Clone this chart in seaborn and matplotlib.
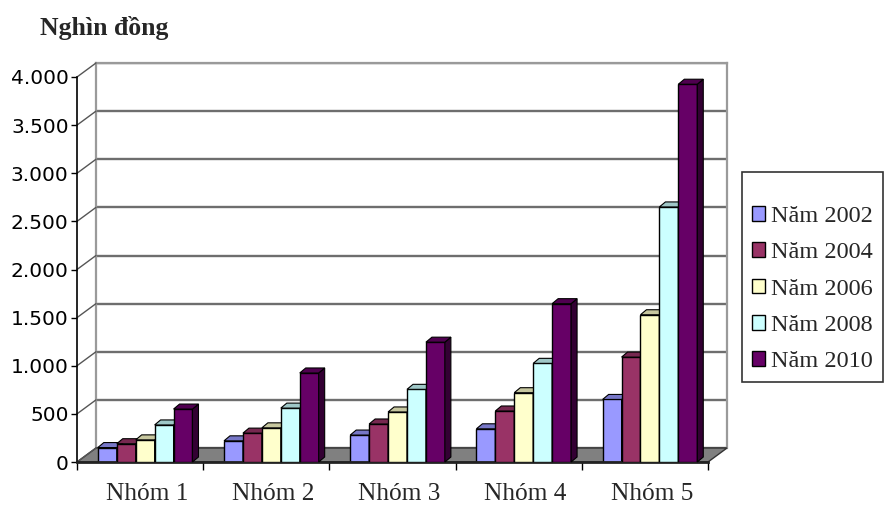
import numpy as np
import pandas as pd
import matplotlib
matplotlib.use("Agg")
import matplotlib.pyplot as plt
import seaborn as sns
from matplotlib.patches import Polygon
from matplotlib.colors import to_rgb

# du lieu doc tu hinh (nghin dong)
groups = ["Nhóm 1", "Nhóm 2", "Nhóm 3", "Nhóm 4", "Nhóm 5"]
years = ["Năm 2002", "Năm 2004", "Năm 2006", "Năm 2008", "Năm 2010"]
v2002 = [150, 220, 280, 345, 650]
v2004 = [190, 300, 395, 530, 1090]
v2006 = [230, 355, 520, 720, 1530]
v2008 = [385, 560, 755, 1025, 2650]
v2010 = [550, 925, 1245, 1645, 3925]
colors = ["#9999FF", "#993366", "#FFFFCC", "#CCFFFF", "#660066"]
yticks = [0, 500, 1000, 1500, 2000, 2500, 3000, 3500, 4000]

rows = []
for y, vals in zip(years, [v2002, v2004, v2006, v2008, v2010]):
    for g, v in zip(groups, vals):
        rows.append({"group": g, "year": y, "value": v})
df = pd.DataFrame(rows)

sns.set_style("white")
W, H = 891, 505
fig = plt.figure(figsize=(W / 100, H / 100), dpi=100)

# tuong phia sau
wall = fig.add_axes([96 / W, 57 / H, 631 / W, 385 / H])
ax = fig.add_axes([77 / W, 43 / H, 631 / W, 385 / H])
ax.set_facecolor("none")

for a in (wall, ax):
    a.set_xlim(-0.5, 4.5)
    a.set_ylim(0, 4000)

wall.set_yticks(yticks)
wall.set_xticks([])
wall.tick_params(left=False, labelleft=False)
wall.grid(axis="y", color="#6e6e6e", lw=1.7)
wall.spines["bottom"].set_visible(False)
for s in ["left", "right", "top"]:
    wall.spines[s].set_color("#9a9a9a")
    wall.spines[s].set_linewidth(1.6)
wall.set_facecolor("white")

sns.barplot(data=df, x="group", y="value", hue="year", palette=colors,
            width=0.75, edgecolor="black", linewidth=1, saturation=1, ax=ax)
ax.set_xlim(-0.5, 4.5)
ax.set_ylim(0, 4000)

def wall_to_main(x, y):
    d = wall.transData.transform((x, y))
    return ax.transData.inverted().transform(d)

# san nha
p1 = wall_to_main(4.5, 0)
p0 = wall_to_main(-0.5, 0)
floor = Polygon([(-0.5, 0), (4.5, 0), tuple(p1), tuple(p0)], closed=True,
                facecolor="#808080", edgecolor="#333333", lw=1,
                clip_on=False, zorder=0.5)
ax.add_patch(floor)

# duong noi truc truoc voi tuong sau
for v in yticks:
    q = wall_to_main(-0.5, v)
    ax.plot([-0.5, q[0]], [v, q[1]], color="#555555", lw=1,
            clip_on=False, zorder=0.6)

# hieu ung 3D cho cot
ddx = 6 / 126.2
ddy = 5 / (385 / 4000)
shift = 0.04
for j, cont in enumerate(ax.containers):
    base = np.array(to_rgb(colors[j]))
    for bar in cont:
        bar.set_x(bar.get_x() + shift)
        bar.set_zorder(2 + j)
        x, w, h = bar.get_x(), bar.get_width(), bar.get_height()
        top = Polygon([(x, h), (x + w, h), (x + w + ddx, h + ddy), (x + ddx, h + ddy)],
                      closed=True, facecolor=base * 0.78, edgecolor="black",
                      lw=0.8, zorder=2 + j, clip_on=False)
        side = Polygon([(x + w, 0), (x + w, h), (x + w + ddx, h + ddy), (x + w + ddx, ddy)],
                       closed=True, facecolor=base * 0.5, edgecolor="black",
                       lw=0.8, zorder=2 + j, clip_on=False)
        ax.add_patch(side)
        ax.add_patch(top)

handles, labels = ax.get_legend_handles_labels()
ax.get_legend().remove()

for s in ["top", "right"]:
    ax.spines[s].set_visible(False)
ax.spines["left"].set_color("black")
ax.spines["left"].set_linewidth(1.2)
ax.spines["bottom"].set_color("#222222")
ax.spines["bottom"].set_linewidth(2)

ax.set_yticks(yticks)
ax.set_yticklabels([f"{v:,}".replace(",", ".") for v in yticks],
                   fontsize=14.5, family="DejaVu Sans")
ax.tick_params(axis="y", direction="out", length=4, width=1, pad=2,
               left=True, colors="black")

ax.set_xticks([-0.5, 0.5, 1.5, 2.5, 3.5, 4.5])
ax.set_xticklabels([])
ax.set_xticks(np.arange(5) + 0.055, minor=True)
ax.set_xticklabels(groups, minor=True, fontsize=18.3, family="Liberation Serif")
ax.tick_params(axis="x", which="major", direction="out", length=6, width=1,
               bottom=True, colors="black")
ax.tick_params(axis="x", which="minor", length=0, pad=15)
ax.set_xlabel("")
ax.set_ylabel("")

fig.text(40 / W, 1 - 28 / H, "Nghìn đồng", fontsize=18.5, fontweight="bold",
         family="Liberation Serif", va="center", ha="left")

leg = fig.legend(handles, labels, loc="upper left", title=" ",
                 bbox_to_anchor=(742 / W, 1 - 172 / H), borderaxespad=0,
                 frameon=True, fancybox=False, edgecolor="black",
                 prop={"family": "Liberation Serif", "size": 17.5},
                 title_fontsize=6,
                 handlelength=0.55, handleheight=0.55, handletextpad=0.25,
                 labelspacing=0.63, borderpad=0.4)
leg.get_frame().set_linewidth(1.2)

fig.savefig("out.png", dpi=100)
